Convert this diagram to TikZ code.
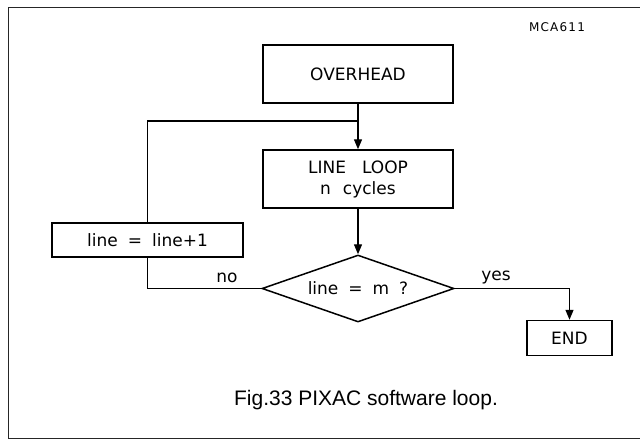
\documentclass[tikz,border=0pt]{standalone}
\usepackage{fontspec}
\setmainfont{DejaVu Sans}
\newfontfamily\capfont{Liberation Sans}
\usetikzlibrary{shapes.geometric,arrows.meta}
\tikzset{
  boxtext/.style={font=\fontsize{17}{21}\selectfont, align=center, inner sep=0pt},
  procbox/.style={boxtext, draw, line width=1.5pt, rectangle},
  decbox/.style={boxtext, draw, line width=1.5pt, diamond, shape aspect=2.87},
  conn/.style={line width=1.4pt},
  arr/.style={conn, -{Triangle[length=10pt,width=8pt]}},
  lbl/.style={font=\fontsize{17}{21}\selectfont, inner sep=0pt},
  frameline/.style={line width=1pt, black!85}
}
\begin{document}
\begin{tikzpicture}[x=1pt,y=-1pt]
\useasboundingbox (0,0) rectangle (640,440);
% outer frame
\draw[frameline] (640,7) -- (8,7) -- (8,438) -- (640,438);
% id label
\node[font=\fontsize{12}{14}\selectfont\addfontfeature{LetterSpace=10}, inner sep=0pt] (id) at (557,27) {MCA611};
% nodes
\node[procbox, minimum width=190pt, minimum height=58pt] (over) at (358,74) {OVERHEAD};
\node[procbox, minimum width=190pt, minimum height=58pt] (loop) at (358,179) {LINE\hspace{16pt}LOOP\\n\hspace{12pt}cycles};
\node[procbox, minimum width=191pt, minimum height=34pt] (inc) at (147.5,240) {line\hspace{10pt}=\hspace{10pt}line+1};
\node[decbox, minimum width=192pt, minimum height=67pt] (dec) at (358,288.5) {line\hspace{10pt}=\hspace{10pt}m\hspace{10pt}?};
\node[procbox, minimum width=85pt, minimum height=35pt] (endb) at (569.5,338) {END};
\coordinate (j) at (358,121);
% connectors
\draw[arr] (over.south) -- (loop.north);
\draw[arr] (loop.south) -- (dec.north);
\draw[conn] (dec.west) -| (inc.south);
\draw[conn] (inc.north) |- (j);
\draw[arr] (dec.east) -| (endb.north);
% labels
\node[lbl] (no) at (227,278) {no};
\node[lbl] (yes) at (496,278) {yes};
% caption
\node[font=\capfont\fontsize{21}{25}\selectfont, inner sep=0pt] (cap) at (366,400) {Fig.33 PIXAC software loop.};
\end{tikzpicture}
\end{document}
